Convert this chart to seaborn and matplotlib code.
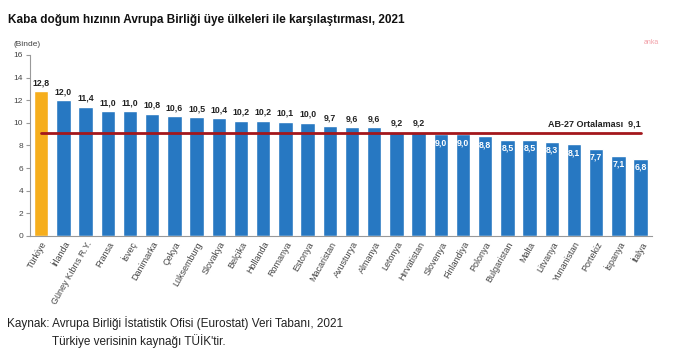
import numpy as np
import pandas as pd
import matplotlib.pyplot as plt
import seaborn as sns

# Veriler (binde)
ulkeler = ["Türkiye", "İrlanda", "Güney Kıbrıs R.Y.", "Fransa", "İsveç", "Danimarka",
           "Çekya", "Lüksemburg", "Slovakya", "Belçika", "Hollanda", "Romanya",
           "Estonya", "Macaristan", "Avusturya", "Almanya", "Letonya", "Hırvatistan",
           "Slovenya", "Finlandiya", "Polonya", "Bulgaristan", "Malta", "Litvanya",
           "Yunanistan", "Portekiz", "İspanya", "İtalya"]
degerler = [12.8, 12.0, 11.4, 11.0, 11.0, 10.8, 10.6, 10.5, 10.4, 10.2, 10.2, 10.1,
            10.0, 9.7, 9.6, 9.6, 9.2, 9.2, 9.0, 9.0, 8.8, 8.5, 8.5, 8.3, 8.1, 7.7,
            7.1, 6.8]
ab_ortalama = 9.1
y_ticks = [0, 2, 4, 6, 8, 10, 12, 14, 16]

df = pd.DataFrame({"ulke": ulkeler, "deger": degerler})
renkler = ["#f6ae1c"] + ["#2778c2"] * (len(ulkeler) - 1)

sns.set_style("white")
plt.rcParams['font.family'] = ['Liberation Sans', 'DejaVu Sans']

fig = plt.figure(figsize=(7, 3.59), dpi=100)
ax = fig.add_axes([0.043, 0.343, 0.888, 0.504])

sns.barplot(data=df, x="ulke", y="deger", hue="ulke", palette=renkler,
            width=0.64, legend=False, saturation=1, ax=ax)

# AB-27 ortalama çizgisi
ax.plot([0, len(ulkeler) - 1], [ab_ortalama, ab_ortalama], color="#a3171c", lw=2, zorder=5)
ax.text(len(ulkeler) - 1, ab_ortalama + 0.35, "AB-27 Ortalaması  9,1", ha="right",
        va="bottom", fontsize=6.5, fontweight="bold", color="#222222")

# Değer etiketleri
for i, v in enumerate(degerler):
    etiket = f"{v:.1f}".replace(".", ",")
    if v > ab_ortalama:
        ax.text(i, v + 0.35, etiket, ha="center", va="bottom", fontsize=6.3,
                fontweight="bold", color="#222222")
    else:
        ax.text(i, v - 0.35, etiket, ha="center", va="top", fontsize=6.3,
                fontweight="bold", color="white", zorder=6)

ax.set_xlim(-0.5, len(ulkeler) - 0.5)
ax.set_ylim(0, 16)
ax.set_yticks(y_ticks)
ax.set_yticklabels([str(t) for t in y_ticks], fontsize=6, color="#444444")
ax.set_xticks(range(len(ulkeler)))
ax.set_xticklabels(ulkeler, rotation=60, ha="right", rotation_mode="anchor",
                   fontsize=6.5, color="#444444")
ax.set_xticks(np.arange(-0.5, len(ulkeler), 1), minor=True)
ax.tick_params(axis="x", which="major", length=0, pad=3)
ax.tick_params(axis="x", which="minor", length=3, color="#999999")
ax.tick_params(axis="y", length=3, color="#999999", pad=2, left=True)
ax.set_xlabel("")
ax.set_ylabel("")
for s in ["top", "right"]:
    ax.spines[s].set_visible(False)
for s in ["left", "bottom"]:
    ax.spines[s].set_color("#999999")
    ax.spines[s].set_linewidth(0.8)

# Başlık ve notlar
fig.text(0.011, 0.945, "Kaba doğum hızının Avrupa Birliği üye ülkeleri ile karşılaştırması, 2021",
         fontsize=8.5, fontweight="bold", color="#111111", va="center")
fig.text(0.02, 0.875, "(Binde)", fontsize=6, color="#444444", va="center")
fig.text(0.92, 0.883, "anka", fontsize=5, color="#f2a0a8", va="center")
fig.text(0.01, 0.1, "Kaynak: Avrupa Birliği İstatistik Ofisi (Eurostat) Veri Tabanı, 2021",
         fontsize=8.5, color="#222222", va="center")
fig.text(0.075, 0.05, "Türkiye verisinin kaynağı TÜİK'tir.",
         fontsize=8.5, color="#222222", va="center")

fig.savefig("out.png", dpi=100)
